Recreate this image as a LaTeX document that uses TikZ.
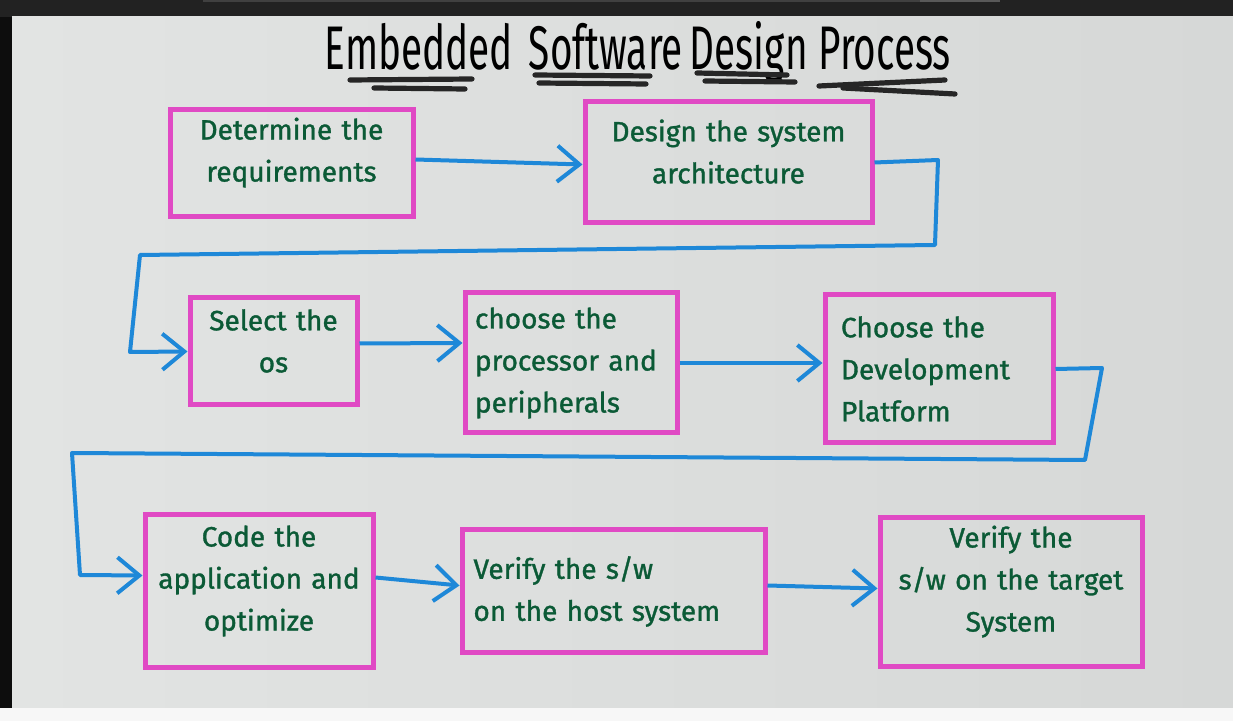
\documentclass[tikz,border=0pt]{standalone}
\usepackage{fontspec}
\usepackage{graphicx}
\setmainfont{Fira Sans}
\newfontfamily\hand{Fira Sans}[FakeBold=1.2]
\usetikzlibrary{arrows.meta,fit,calc}
\definecolor{boardL}{HTML}{E2E4E3}
\definecolor{boardR}{HTML}{D6D8D7}
\definecolor{mag}{HTML}{E04AC4}
\definecolor{pen}{HTML}{0B5A36}
\definecolor{bluepen}{HTML}{1E88D8}
\definecolor{topbar}{HTML}{222222}
\begin{document}
\begin{tikzpicture}[x=0.5pt,y=-0.5pt,
  stepbox/.style={draw=mag, line width=2.5pt, inner sep=0pt, text=pen,
    font=\hand\fontsize{14}{21}\selectfont},
  conn/.style={draw=bluepen, line width=2pt, line join=round,
    -{Straight Barb[length=11pt,width=18pt,line width=2pt]}},
  uline/.style={line width=2.6pt, black!85, line cap=round}]
% frame and board
\useasboundingbox (0,0) rectangle (1233,721);
\fill[topbar] (0,0) rectangle (1233,17);
\fill[black!75] (203,0) rectangle (920,2);
\fill[black!65] (920,0) rectangle (1000,2);
\fill[black!95] (0,17) rectangle (12,708);
\fill[white!97!black] (0,708) rectangle (1233,721);
\shade[left color=boardL, right color=boardR] (12,17) rectangle (1233,708);
% title
\node[font=\fontsize{22}{26}\selectfont, text=black] (title) at (638,52)
  {\scalebox{0.88}[1.4]{Embedded\hspace{9pt}Software\hspace{4pt}Design\hspace{6pt}Process}};
\draw[uline] (350,80) -- (472,79);
\draw[uline] (374,88) -- (465,89);
\draw[uline] (535,75) -- (650,76);
\draw[uline] (539,83) -- (646,84);
\draw[uline] (697,73) -- (787,75);
\draw[uline] (705,81) -- (795,82);
\draw[uline] (819,86) -- (945,80);
\draw[uline] (843,88) -- (955,94);
% boxes
\node[stepbox, fit={(170,110) (413,217)}, align=center] (b1) {Determine the\\requirements};
\node[stepbox, fit={(585,102) (872,223)}, align=center] (b2) {Design the system\\architecture};
\node[stepbox, fit={(190,298) (357,405)}, align=center] (b3) {Select the\\os};
\node[stepbox, minimum width=106pt, minimum height=70pt, text width=96pt, align=left] (b4) at (571,363) {choose the\\processor and\\peripherals};
\node[stepbox, minimum width=114pt, minimum height=74pt, text width=98pt, align=left] (b5) at (939,369) {Choose the\\Development\\Platform};
\node[stepbox, fit={(145,515) (373,668)}, align=center] (b6) {Code the\\application and\\optimize};
\node[stepbox, minimum width=151.5pt, minimum height=61.5pt, text width=140pt, align=left] (b7) at (613.5,591.5) {Verify the s/w\\on the host system};
\node[stepbox, fit={(880,518) (1142,667)}, align=center] (b8) {Verify the\\s/w on the target\\System};
% bend points
\coordinate (c1) at (938,160);
\coordinate (c2) at (935,245);
\coordinate (c3) at (140,255);
\coordinate (c4) at (130,352);
\coordinate (d1) at (1102,368);
\coordinate (d2) at (1085,460);
\coordinate (d3) at (72,453);
\coordinate (d4) at (80,575);
% connectors
\draw[conn] ([yshift=2pt]b1.east) -- ([yshift=-1pt]b2.west);
\draw[conn] (b2.east) -- (c1) -- (c2) -- (c3) -- (c4) -- (b3.west);
\draw[conn] ([yshift=4pt]b3.east) -- ([yshift=10pt]b4.west);
\draw[conn] (b4.east) -- ([yshift=3pt]b5.west);
\draw[conn] (b5.east) -- (d1) -- (d2) -- (d3) -- (d4) -- ([yshift=8pt]b6.west);
\draw[conn] ([yshift=7pt]b6.east) -- ([yshift=3pt]b7.west);
\draw[conn] ([yshift=3pt]b7.east) -- ([yshift=2pt]b8.west);
\end{tikzpicture}
\end{document}
